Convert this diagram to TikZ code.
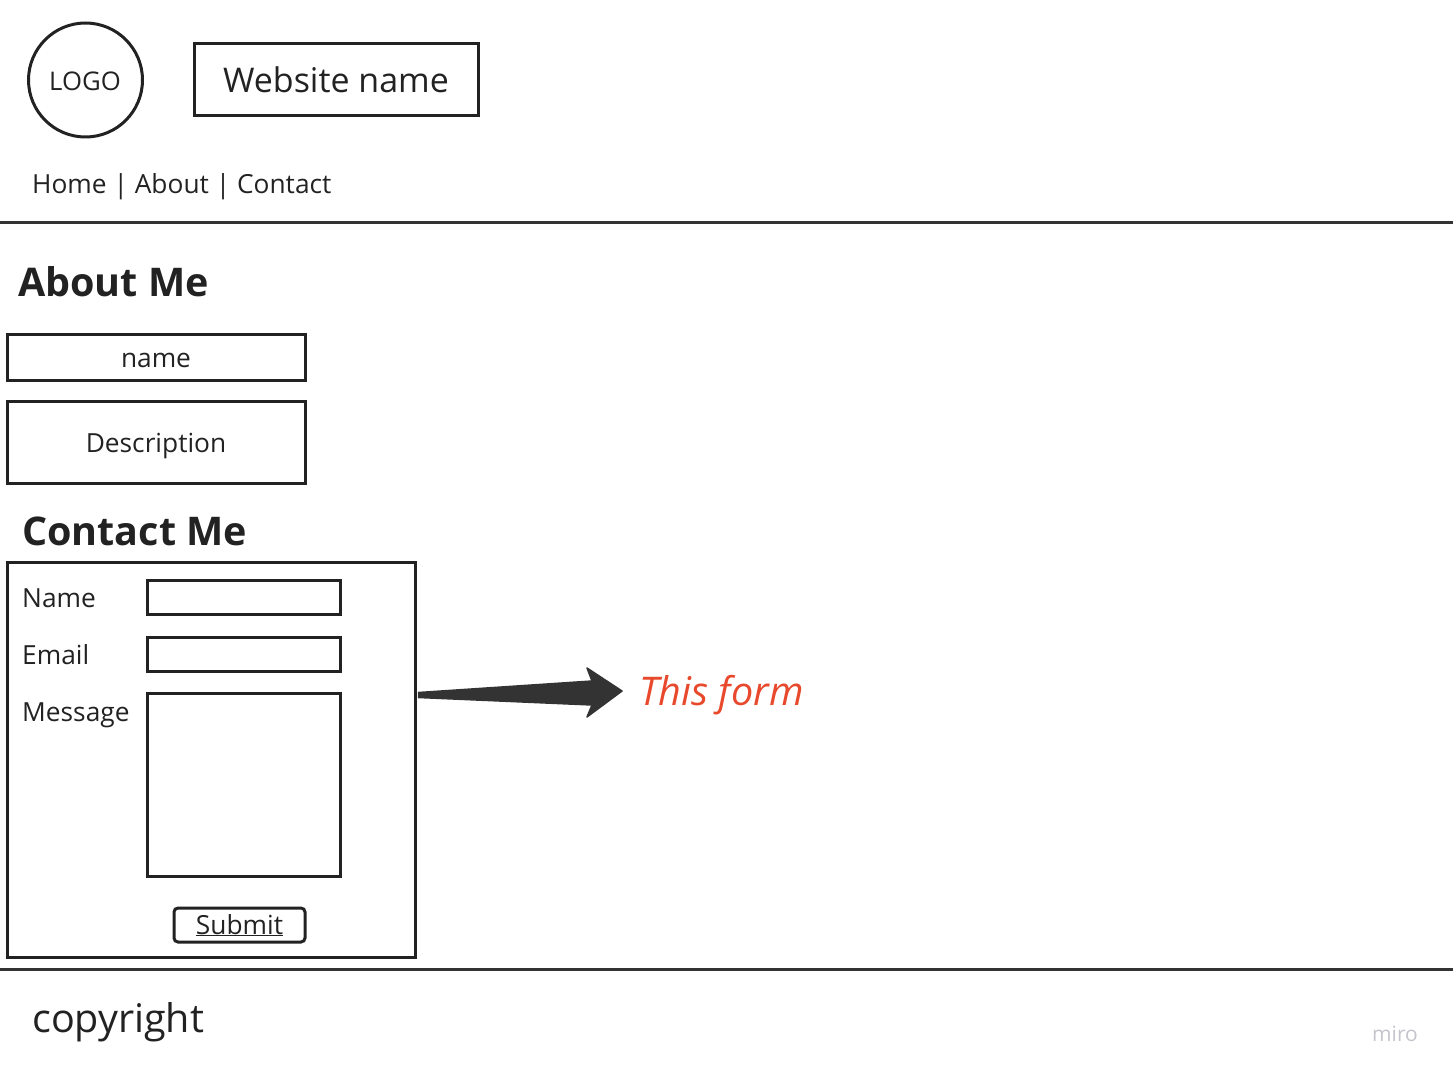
\documentclass[tikz,border=0pt]{standalone}
\usepackage{fontspec}
\setmainfont{Open Sans}
\usetikzlibrary{calc}
\definecolor{ink}{HTML}{222222}
\definecolor{rule}{HTML}{333333}
\definecolor{note}{HTML}{E8482B}
\definecolor{mark}{HTML}{C4C4CC}
\newcommand{\fs}[1]{\fontsize{#1}{#1}\selectfont}
\tikzset{
  frame/.style={draw=ink, line width=3pt, inner sep=0pt},
  label/.style={inner sep=0pt, text=ink},
  divider/.style={draw=rule, line width=3pt},
  pointer/.style={fill=rule, draw=rule, line width=1.5pt, line join=round},
}
\begin{document}
\begin{tikzpicture}[x=1pt, y=-1pt]
\useasboundingbox (0,0) rectangle (1453,1075);

% header
\node[frame, circle, minimum size=114pt] (logo) at (85.5,80) {};
\node[label, anchor=base] (logotxt) at (85,91) {\fs{25.7}LOGO};
\node[frame, minimum width=284pt, minimum height=72pt] (site) at (336,80) {};
\node[label, anchor=base] (sitetxt) at (336,93) {\fs{34}Website name};
\node[label, anchor=base west] (nav) at (32,194) {\fs{26.3}Home | About | Contact};
\coordinate (hl) at (0,222.5);
\coordinate (hr) at (1453,222.5);
\draw[divider] (hl) -- (hr);

% about section
\node[label, anchor=base west] (about) at (18,297) {\fs{39.5}\bfseries About Me};
\node[frame, minimum width=298pt, minimum height=46pt] (namebox) at (156,357) {};
\node[label, anchor=base] (nametxt) at (156,367) {\fs{26.3}name};
\node[frame, minimum width=298pt, minimum height=82pt] (descbox) at (156,442) {};
\node[label, anchor=base] (desctxt) at (156,452) {\fs{26.3}Description};

% contact section
\node[label, anchor=base west] (contact) at (22,545) {\fs{39.5}\bfseries Contact Me};
\node[frame, minimum width=408pt, minimum height=395pt] (form) at (211,759.5) {};
\node[label, anchor=base west] (lname) at (22,607) {\fs{26.3}Name};
\node[label, anchor=base west] (lemail) at (22,664) {\fs{26.3}Email};
\node[label, anchor=base west] (lmsg) at (22,721) {\fs{26.3}Message};
\node[frame, minimum width=193pt, minimum height=34pt] (iname) at (243.5,597.5) {};
\node[frame, minimum width=193pt, minimum height=34pt] (iemail) at (243.5,654) {};
\node[frame, minimum width=193pt, minimum height=183pt] (imsg) at (243.5,784.5) {};
\node[frame, rounded corners=4pt, minimum width=131pt, minimum height=34pt] (submit) at (239.5,925) {};
\node[label, anchor=base] (subtxt) at (239.5,934) {\fs{26.3}\underline{Submit}};

% callout
\node[inner sep=0pt, text=note, anchor=base west] (callout) at (639,705) {\fs{39.5}\itshape This form};
\coordinate (tail) at ($(form.east)+(2,-64.5)$);
\fill[pointer] (tail) ++(0,-2.5) -- (592,681) -- (587,668) -- (622,691) -- (587,717) -- (592,705) -- ($(tail)+(0,2.5)$) -- cycle;

% footer
\coordinate (fl) at (0,969.5);
\coordinate (fr) at (1453,969.5);
\draw[divider] (fl) -- (fr);
\node[label, anchor=base west] (copy) at (32,1032) {\fs{39.5}copyright};
\node[inner sep=0pt, text=mark, anchor=base west] (brand) at (1372,1041) {\fs{21}miro};
\end{tikzpicture}
\end{document}
